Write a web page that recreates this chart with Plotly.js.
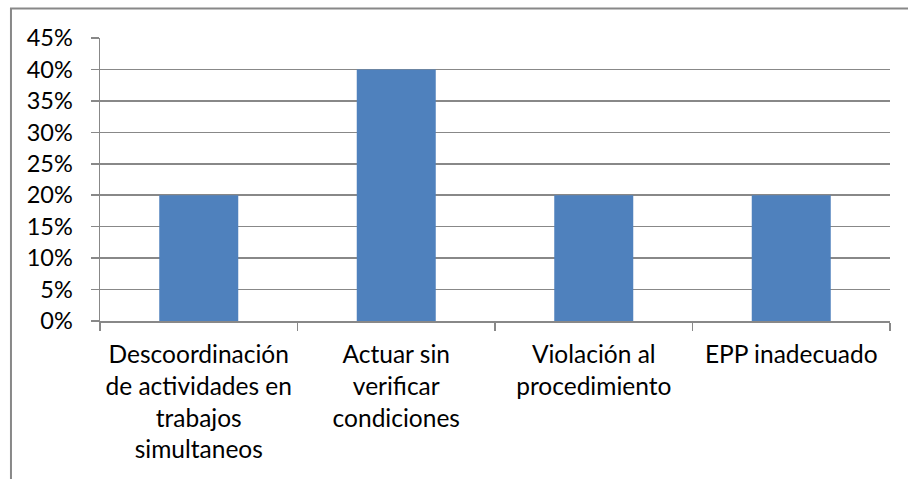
<!DOCTYPE html>
<html>
<head>
<meta charset="utf-8">
<script src="https://cdn.plot.ly/plotly-3.0.1.min.js"></script>
<style>
  html, body { margin: 0; padding: 0; background: #ffffff; }
  #chart { width: 908px; height: 479px; }
</style>
</head>
<body>
<div id="chart"></div>
<script>
const categories = [
  "Descoordinación<br>de actividades en<br>trabajos<br>simultaneos",
  "Actuar sin<br>verificar<br>condiciones",
  "Violación al<br>procedimiento",
  "EPP inadecuado"
];
const values = [0.20, 0.40, 0.20, 0.20];
const yTickVals = [0, 0.05, 0.10, 0.15, 0.20, 0.25, 0.30, 0.35, 0.40, 0.45];

const fontFamily = "Lato, 'Open Sans', sans-serif";
const gray = "#888888";

const trace = {
  type: "bar",
  x: categories,
  y: values,
  marker: { color: "#4F81BD" },
  width: 0.4,
  hoverinfo: "x+y"
};

const layout = {
  width: 908,
  height: 479,
  margin: { l: 100, r: 18, t: 38, b: 158 },
  paper_bgcolor: "#ffffff",
  plot_bgcolor: "#ffffff",
  showlegend: false,
  font: { family: fontFamily, size: 24, color: "#000000" },
  xaxis: {
    type: "category",
    range: [-0.5, 3.5],
    tickson: "boundaries",
    ticks: "outside",
    ticklen: 8,
    tickwidth: 1.5,
    tickcolor: gray,
    showline: true,
    linecolor: gray,
    linewidth: 1.5,
    showgrid: false,
    zeroline: false,
    tickangle: 0,
    ticklabelstandoff: 11,
    tickfont: { family: fontFamily, size: 24.5, color: "#000000" }
  },
  yaxis: {
    range: [0, 0.45],
    tickvals: yTickVals,
    tickformat: ".0%",
    ticks: "outside",
    ticklen: 8,
    tickwidth: 1.5,
    tickcolor: gray,
    showline: true,
    linecolor: gray,
    linewidth: 1.5,
    showgrid: true,
    gridcolor: gray,
    gridwidth: 1.5,
    zeroline: false,
    ticklabelstandoff: 13,
    tickfont: { family: fontFamily, size: 23.5, color: "#000000" }
  },
  shapes: [
    {
      type: "path",
      xref: "paper",
      yref: "paper",
      path: "M -0.1127,-0.6 L -0.1127,1.1042 L 1.05,1.1042",
      line: { color: gray, width: 2 }
    }
  ]
};

Plotly.newPlot("chart", [trace], layout, { displayModeBar: false, staticPlot: true });
</script>
</body>
</html>
